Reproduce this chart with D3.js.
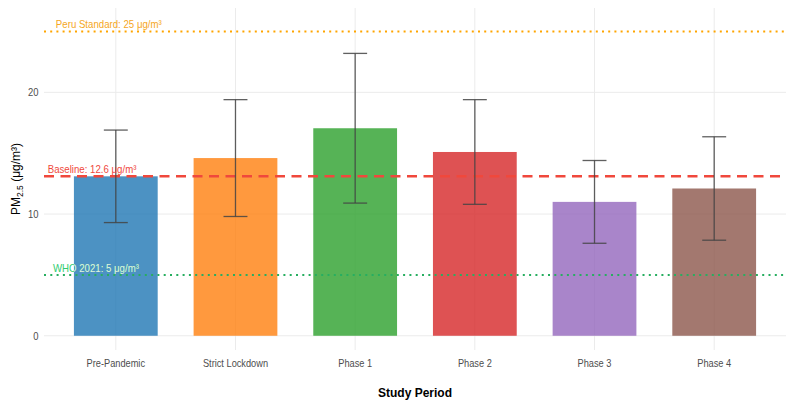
<!DOCTYPE html>
<html>
<head>
<meta charset="utf-8">
<script src="https://cdn.jsdelivr.net/npm/d3@7"></script>
<style>
  body { margin: 0; background: #fff; }
  svg { display: block; font-family: 'Liberation Sans', Arial, sans-serif; }
</style>
</head>
<body>
<div id="chart"></div>
<script>
// data
const periods = ['Pre-Pandemic', 'Strict Lockdown', 'Phase 1', 'Phase 2', 'Phase 3', 'Phase 4']
const means = [13.1, 14.6, 17.05, 15.1, 11.0, 12.1]
const sds = [3.8, 4.8, 6.15, 4.3, 3.4, 4.25]
const colors = ['#1f77b4', '#ff7f0e', '#2ca02c', '#d62728', '#9467bd', '#8c564b']
const yTicks = [0, 10, 20]

const refValues = [25, 13.1, 5]
const refLabels = ['Peru Standard: 25 μg/m³', 'Baseline: 12.6 μg/m³', 'WHO 2021: 5 μg/m³']

const init = () => {
  const width = 796,
    height = 407
  const panel = { left: 44, right: 786, top: 8, bottom: 350 }

  const svg = d3
    .select('#chart')
    .append('svg')
    .attr('width', width)
    .attr('height', height)

  const x = d3
    .scaleBand()
    .domain(periods)
    .range([panel.left, panel.right])
    .paddingInner(0.3)
    .paddingOuter(0.25)

  const y = d3.scaleLinear().domain([-1.17, 26.93]).range([panel.bottom, panel.top])

  const data = periods.map((p, i) => ({ period: p, mean: means[i], sd: sds[i], color: colors[i] }))

  // grid
  const grid = svg.append('g')
  grid
    .selectAll('line.h')
    .data(yTicks)
    .join('line')
    .attr('x1', panel.left)
    .attr('x2', panel.right)
    .attr('y1', (d) => y(d))
    .attr('y2', (d) => y(d))
    .attr('stroke', '#ebebeb')
    .attr('stroke-width', 1)
  grid
    .selectAll('line.v')
    .data(periods)
    .join('line')
    .attr('x1', (d) => x(d) + x.bandwidth() / 2)
    .attr('x2', (d) => x(d) + x.bandwidth() / 2)
    .attr('y1', panel.top)
    .attr('y2', panel.bottom)
    .attr('stroke', '#ebebeb')
    .attr('stroke-width', 1)

  // bars
  svg
    .append('g')
    .selectAll('rect')
    .data(data)
    .join('rect')
    .attr('x', (d) => x(d.period))
    .attr('width', x.bandwidth())
    .attr('y', (d) => y(d.mean))
    .attr('height', (d) => y(0) - y(d.mean))
    .attr('fill', (d) => d.color)
    .attr('fill-opacity', 0.8)

  // clip of the bar areas, used to lighten label text lying on a bar
  svg
    .append('clipPath')
    .attr('id', 'barclip')
    .selectAll('rect')
    .data(data)
    .join('rect')
    .attr('x', (d) => x(d.period))
    .attr('width', x.bandwidth())
    .attr('y', (d) => y(d.mean))
    .attr('height', (d) => y(0) - y(d.mean))

  // reference lines
  const refStyles = [
    { color: '#ffa500', dash: '2,4.2', w: 2, label: '#f5a623', lx: 0.016 },
    { color: '#f0483c', dash: '10,6.5', w: 2.5, label: '#f0483c', lx: 0.005 },
    { color: '#27ae60', dash: '2,4.3', w: 2, label: '#2ecc71', lx: 0.012 },
  ]
  const refs = svg.append('g')
  refValues.forEach((v, i) => {
    const s = refStyles[i]
    refs
      .append('line')
      .attr('x1', panel.left)
      .attr('x2', panel.right)
      .attr('y1', y(v))
      .attr('y2', y(v))
      .attr('stroke', s.color)
      .attr('stroke-width', s.w)
      .attr('stroke-dasharray', s.dash)
  })

  // error bars
  const eb = svg.append('g').attr('stroke', '#444').attr('stroke-width', 1.3).attr('stroke-opacity', 0.85)
  const cx = (d) => x(d.period) + x.bandwidth() / 2
  const capW = x.step() * 0.1
  eb.selectAll('line.stem')
    .data(data)
    .join('line')
    .attr('x1', cx)
    .attr('x2', cx)
    .attr('y1', (d) => y(d.mean + d.sd))
    .attr('y2', (d) => y(d.mean - d.sd))
  eb.selectAll('line.top')
    .data(data)
    .join('line')
    .attr('x1', (d) => cx(d) - capW)
    .attr('x2', (d) => cx(d) + capW)
    .attr('y1', (d) => y(d.mean + d.sd))
    .attr('y2', (d) => y(d.mean + d.sd))
  eb.selectAll('line.bot')
    .data(data)
    .join('line')
    .attr('x1', (d) => cx(d) - capW)
    .attr('x2', (d) => cx(d) + capW)
    .attr('y1', (d) => y(d.mean - d.sd))
    .attr('y2', (d) => y(d.mean - d.sd))

  // reference labels (slightly condensed like the original)
  refValues.forEach((v, i) => {
    const s = refStyles[i]
    const lx = panel.left + (panel.right - panel.left) * s.lx
    svg
      .append('text')
      .attr('transform', `translate(${lx},${y(v) - 3}) scale(0.92,1)`)
      .attr('fill', s.label)
      .attr('font-size', 10.5)
      .text(refLabels[i])
    // light copy where the label sits on a bar
    svg
      .append('g')
      .attr('clip-path', 'url(#barclip)')
      .append('text')
      .attr('transform', `translate(${lx},${y(v) - 3}) scale(0.92,1)`)
      .attr('fill', '#e3efe9')
      .attr('font-size', 10.5)
      .text(refLabels[i])
  })

  // axes
  const xAxis = svg
    .append('g')
    .attr('transform', `translate(0,${panel.bottom})`)
    .call(d3.axisBottom(x).tickSize(0).tickPadding(10))
  xAxis.select('.domain').remove()
  xAxis
    .selectAll('text')
    .attr('fill', '#4d4d4d')
    .attr('font-size', 10.5)
    .attr('transform', 'scale(0.88,1)')

  const yAxis = svg
    .append('g')
    .attr('transform', `translate(${panel.left},0)`)
    .call(d3.axisLeft(y).tickValues(yTicks).tickSize(0).tickPadding(6))
  yAxis.select('.domain').remove()
  yAxis.selectAll('text').attr('fill', '#4d4d4d').attr('font-size', 10.5).attr('transform', 'scale(0.9,1)')

  // titles
  svg
    .append('text')
    .attr('x', (panel.left + panel.right) / 2)
    .attr('y', 397)
    .attr('text-anchor', 'middle')
    .attr('font-size', 12)
    .attr('font-weight', 'bold')
    .text('Study Period')

  const yt = svg
    .append('text')
    .attr('transform', `translate(20,${(panel.top + panel.bottom) / 2}) rotate(-90)`)
    .attr('text-anchor', 'middle')
    .attr('font-size', 12)
  yt.append('tspan').text('PM')
  yt.append('tspan').attr('font-size', 8.5).attr('dy', 3).text('2.5')
  yt.append('tspan').attr('dy', -3).text(' (μg/m³)')
}

init()
</script>
</body>
</html>
